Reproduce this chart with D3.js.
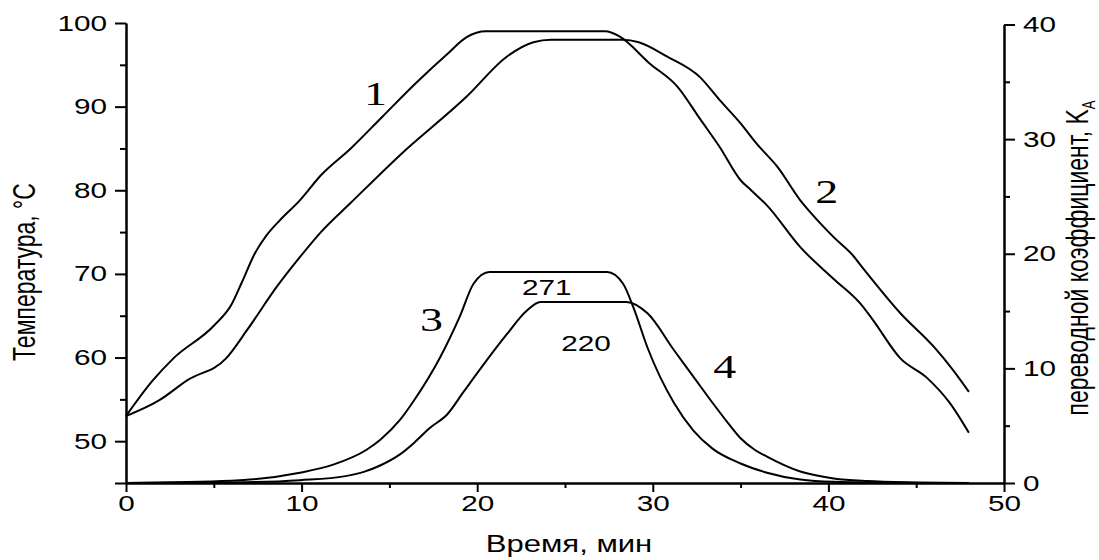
<!doctype html>
<html>
<head>
<meta charset="utf-8">
<title>Температура и переводной коэффициент</title>
<script src="https://d3js.org/d3.v7.min.js"></script>
<style>
body { margin: 0; background: white; }
svg { display: block; background: white; }
.axis path, .axis line { stroke: black; stroke-width: 2px; }
.axis text { font-family: "Liberation Sans", Arial, sans-serif; font-size: 22px; fill: black; }
.curve { fill: none; stroke: black; stroke-width: 2px; }
.title { font-family: "Liberation Sans", Arial, sans-serif; font-size: 23px; fill: black; }
.num { font-family: "Liberation Sans", Arial, sans-serif; font-size: 22px; fill: black; }
.tag { font-family: "Liberation Serif", "Times New Roman", serif; font-size: 34px; fill: black; }
</style>
</head>
<body>
<div id="chart"></div>
<script>
// curve 1 - temperature, °C
var time1 = [0, 1.5, 2.7, 5, 6.0, 6.6, 7.3, 8.0, 8.8, 9.9, 11.1, 12.8, 14.6, 16.5, 18.3, 19.4, 20.5, 27.3, 28.1, 29.8, 31.4, 32.7, 33.8, 35.0, 35.6, 36.5, 38.4, 40.3, 41.8, 42.5, 44.1, 45.6, 46.9, 48];
var temp1 = [53, 57.2, 59.9, 63.8, 66.3, 69.0, 72.3, 74.6, 76.5, 78.8, 81.8, 85.0, 88.8, 92.8, 96.3, 98.3, 99, 99, 98.4, 95.2, 92.4, 88.5, 85.2, 81.2, 80.0, 78.2, 73.2, 69.4, 66.5, 64.6, 59.9, 57.6, 54.6, 51.0];

// curve 2 - temperature, °C
var time2 = [0, 1.9, 3.5, 5.7, 6.9, 8.6, 9.9, 11.1, 12.8, 15.6, 19.4, 21.7, 23.2, 24.2, 28.3, 29.2, 30.8, 32.7, 33.8, 35.0, 35.9, 37.1, 38.4, 39.0, 40.3, 41.4, 42.0, 44.1, 46.0, 47.1, 48];
var temp2 = [53, 54.9, 57.3, 59.9, 63.3, 68.5, 72.0, 75.0, 78.5, 84.2, 91.2, 96.0, 97.7, 98, 98, 97.7, 96.0, 93.5, 90.8, 88.0, 85.6, 82.8, 78.8, 77.3, 74.4, 72.2, 70.6, 65.3, 61.3, 58.5, 55.9];

// curve 3 - transfer coefficient K_A
var time3 = [0, 6, 9.9, 11.8, 13.7, 14.5, 15.6, 16.4, 17.9, 19.0, 19.8, 20.7, 27.4, 28.3, 28.9, 29.7, 31.2, 32.3, 33.4, 35.0, 36.5, 38.4, 40.3, 44, 48];
var coef3 = [0, 0.2, 0.9, 1.6, 2.9, 3.8, 5.5, 7.2, 11.0, 14.5, 17.4, 18.4, 18.4, 17.4, 15.3, 11.8, 7.0, 4.6, 3.0, 1.7, 0.9, 0.3, 0.1, 0.02, 0];

// curve 4 - transfer coefficient K_A
var time4 = [0, 6, 9.9, 12.5, 13.5, 14.5, 15.6, 16.4, 17.3, 18.3, 19.2, 20.2, 21.7, 22.8, 23.6, 28.5, 29.7, 31.2, 32.3, 33.4, 34.3, 35.0, 35.8, 36.5, 38.4, 40.3, 42.2, 45, 48];
var coef4 = [0, 0.05, 0.25, 0.6, 0.95, 1.55, 2.5, 3.5, 4.8, 6.0, 7.9, 10.0, 13.0, 15.0, 15.8, 15.8, 14.8, 11.6, 9.3, 7.0, 5.2, 3.9, 2.9, 2.3, 1.0, 0.4, 0.17, 0.05, 0];

var xTicks = [0, 10, 20, 30, 40, 50];
var xMinor = [5, 15, 25, 35, 45];
var tempTicks = [45, 50, 60, 70, 80, 90, 100];
var tempMinor = [55, 65, 75, 85, 95];
var coefTicks = [0, 10, 20, 30, 40];
var coefMinor = [5, 15, 25, 35];

// curve numbers and peak values, placed in data units
var tagText = ["1", "2", "3", "4"];
var tagTime = [14.2, 39.9, 17.4, 34.1];
var tagValue = [90.2, 78.5, 13.3, 9.2];
var tagAxis = ["T", "T", "K", "K"];
var peakText = ["271", "220"];
var peakTime = [23.96, 26.2];
var peakCoef = [16.4, 11.5];

var W = 1099, H = 560;
var SX = 1.35; // the original picture is wider than the font

var svg = d3.select("#chart").append("svg")
  .attr("width", W)
  .attr("height", H);

var x = d3.scaleLinear().domain([0, 50]).range([126, 1004]);
var yT = d3.scaleLinear().domain([45, 100]).range([483, 23]);
var yK = d3.scaleLinear().domain([0, 40]).range([483, 24.5]);

// left axis
var gL = svg.append("g").attr("class", "axis").attr("transform", "translate(126,0)");
gL.call(d3.axisLeft(yT).tickValues(tempTicks).tickSize(11).tickSizeOuter(0)
  .tickFormat(function(d) { return d === 45 ? "" : d; }));
gL.append("g").call(d3.axisLeft(yT).tickValues(tempMinor).tickSize(6).tickSizeOuter(0).tickFormat(""));
gL.selectAll("text").attr("x", -19 / SX).attr("transform", "scale(" + SX + ",1)");

// right axis
var gR = svg.append("g").attr("class", "axis").attr("transform", "translate(1004,0)");
gR.call(d3.axisRight(yK).tickValues(coefTicks).tickSize(11).tickSizeOuter(0));
gR.append("g").call(d3.axisRight(yK).tickValues(coefMinor).tickSize(6).tickSizeOuter(0).tickFormat(""));
gR.selectAll("text").attr("x", 19 / SX).attr("transform", "scale(" + SX + ",1)");

// bottom axis
var gB = svg.append("g").attr("class", "axis").attr("transform", "translate(0,483)");
gB.call(d3.axisBottom(x).tickValues(xTicks).tickSize(9).tickSizeOuter(0));
gB.append("g").call(d3.axisBottom(x).tickValues(xMinor).tickSize(5).tickSizeOuter(0).tickFormat(""));
gB.selectAll("text").attr("transform", "scale(" + SX + ",1)");

// curves
var lineT = d3.line()
  .x(function(d) { return x(d[0]); })
  .y(function(d) { return yT(d[1]); })
  .curve(d3.curveMonotoneX);
var lineK = d3.line()
  .x(function(d) { return x(d[0]); })
  .y(function(d) { return yK(d[1]); })
  .curve(d3.curveMonotoneX);

svg.append("path").attr("class", "curve").attr("d", lineT(d3.zip(time1, temp1)));
svg.append("path").attr("class", "curve").attr("d", lineT(d3.zip(time2, temp2)));
svg.append("path").attr("class", "curve").attr("d", lineK(d3.zip(time3, coef3)));
svg.append("path").attr("class", "curve").attr("d", lineK(d3.zip(time4, coef4)));

// curve numbers
tagText.forEach(function(t, i) {
  var py = tagAxis[i] === "T" ? yT(tagValue[i]) : yK(tagValue[i]);
  svg.append("text")
    .attr("class", "tag")
    .attr("text-anchor", "middle")
    .attr("transform", "translate(" + x(tagTime[i]) + "," + py + ") scale(" + SX + ",1)")
    .text(t);
});

peakText.forEach(function(t, i) {
  svg.append("text")
    .attr("class", "num")
    .attr("text-anchor", "middle")
    .attr("transform", "translate(" + x(peakTime[i]) + "," + yK(peakCoef[i]) + ") scale(" + SX + ",1)")
    .text(t);
});

// axis titles
svg.append("text")
  .attr("class", "title")
  .attr("text-anchor", "middle")
  .attr("transform", "translate(569,552) scale(" + SX + ",1)")
  .text("Время, мин");

svg.append("text")
  .attr("class", "title")
  .attr("text-anchor", "middle")
  .attr("transform", "translate(35,272) rotate(-90) scale(1," + SX + ")")
  .text("Температура, °C");

var rt = svg.append("text")
  .attr("class", "title")
  .attr("text-anchor", "middle")
  .attr("transform", "translate(1088,258) rotate(-90) scale(1," + SX + ")");
rt.append("tspan").text("переводной коэффициент, K");
rt.append("tspan").attr("dy", 5).style("font-size", "13px").text("A");
</script>
</body>
</html>
